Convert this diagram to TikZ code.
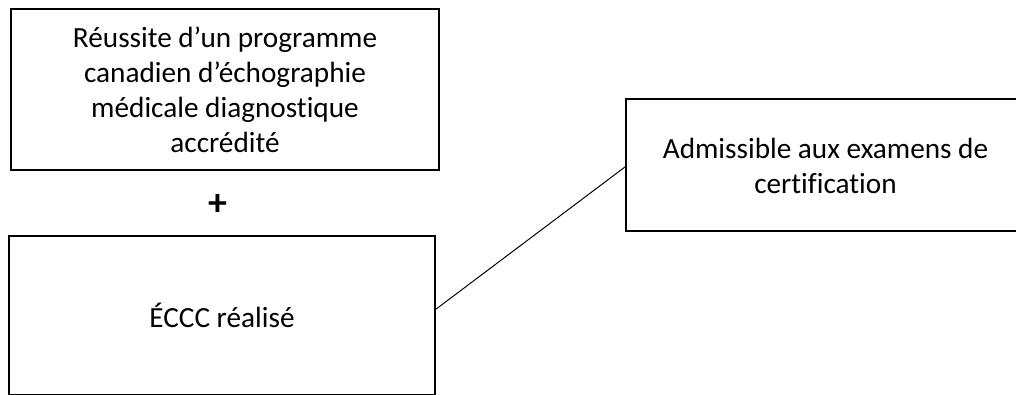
\documentclass[tikz,border=0pt]{standalone}
\usepackage{fontspec}
\setmainfont{Carlito}[Ligatures={NoCommon,NoRequired,NoContextual}]
\begin{document}
\begin{tikzpicture}[x=0.025cm,y=-0.025cm,
  boxstyle/.style={draw=black,line width=1.4pt,inner sep=0pt,rectangle},
  txt/.style={font=\fontsize{20.8pt}{24.9pt}\selectfont,align=center,inner sep=0pt},
  link/.style={draw=black,line width=0.7pt}]
\useasboundingbox (0,0) rectangle (1016,394);
\clip (0,0) rectangle (1016,394);
\node[boxstyle,txt,minimum width=10.7cm,minimum height=4.025cm] (b1) at (225,89.5)
  {Réussite d’un programme\\canadien d’échographie\\médicale diagnostique\\accrédité};
\node[txt,font=\fontsize{27pt}{30pt}\selectfont\bfseries] (plus) at (217.5,204.5) {+};
\node[boxstyle,txt,minimum width=10.65cm,minimum height=3.975cm] (b2) at (222,315.5) {ÉCCC réalisé};
\node[boxstyle,minimum width=12cm,minimum height=3.3cm] (b3) at (866,165) {};
\node[txt] (t3) at (825.5,166) {Admissible aux examens de\\certification};
\draw[link] ([yshift=0.16cm]b2.east) -- ([yshift=-0.05cm]b3.west);
\end{tikzpicture}
\end{document}
